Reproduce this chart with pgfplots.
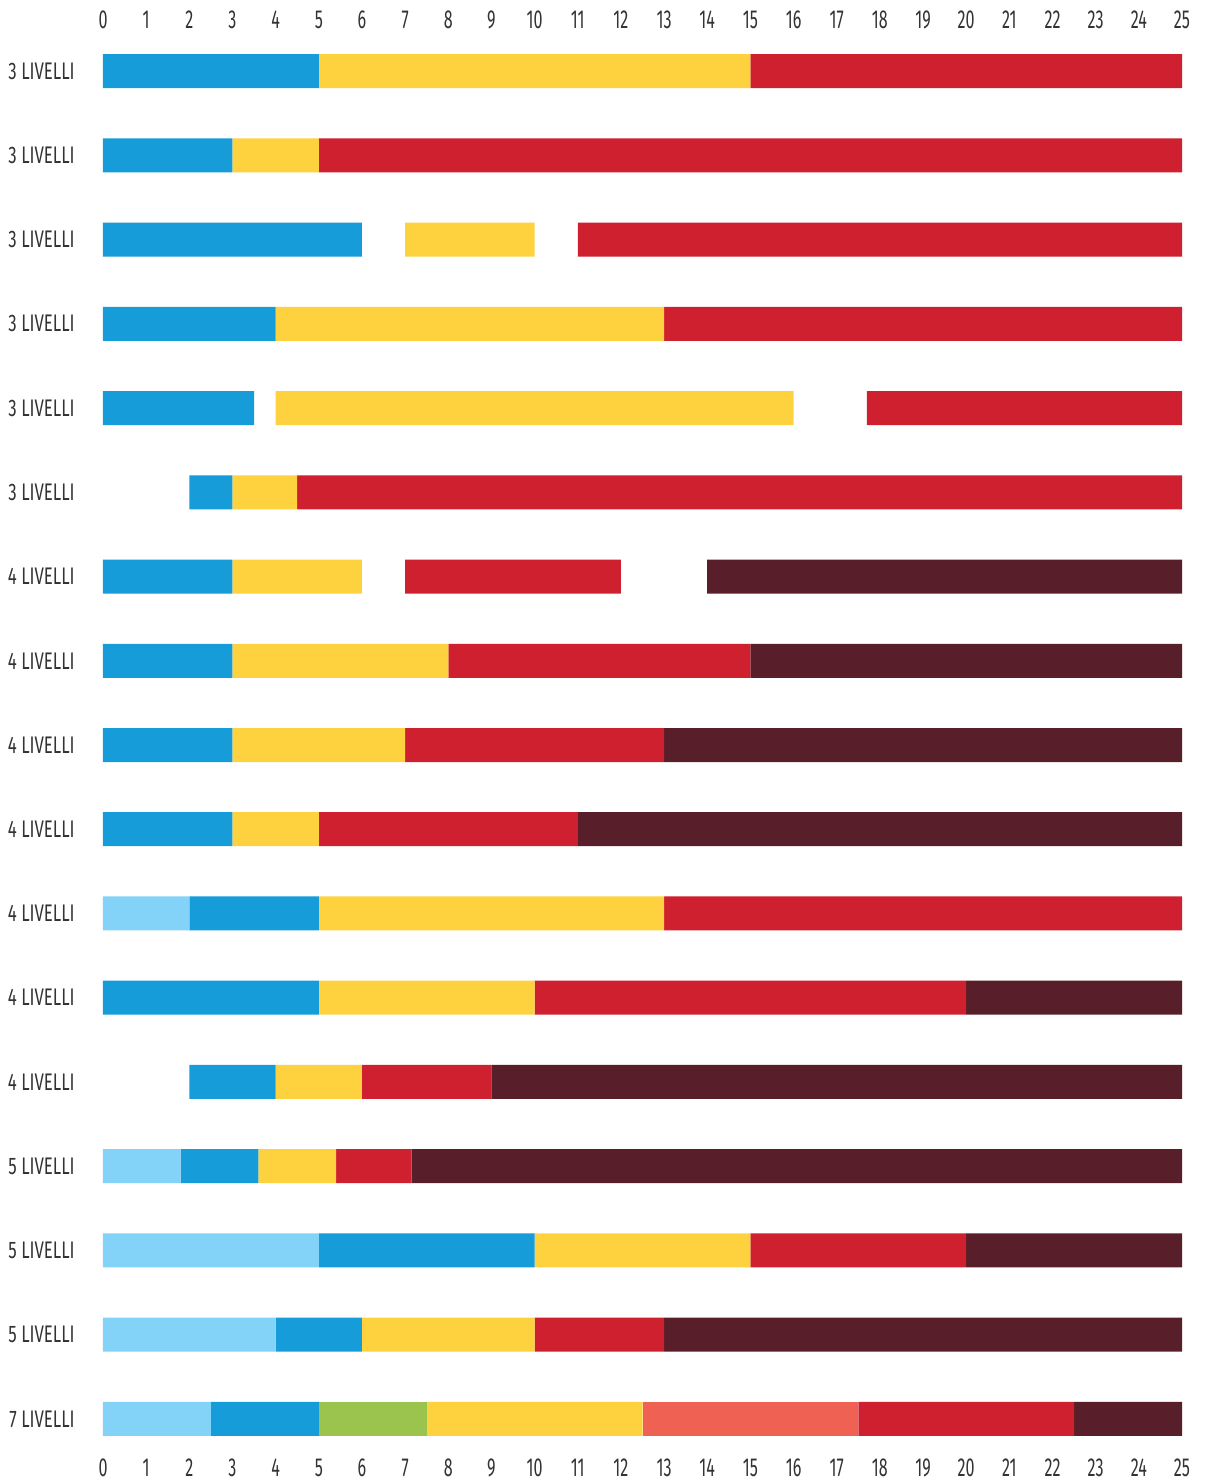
\documentclass[border=0pt]{standalone}
\usepackage{pgfplots}
\pgfplotsset{compat=1.18}
\usepackage{pgfplotstable}
\usepackage{fontspec}
\setmainfont{Fira Sans}[FakeStretch=0.7]
\newfontfamily\tickfont{Fira Sans}[FakeStretch=0.62]
\definecolor{cLB}{HTML}{82D3F7}
\definecolor{cBL}{HTML}{169DD9}
\definecolor{cGR}{HTML}{9BC44F}
\definecolor{cYE}{HTML}{FDD23E}
\definecolor{cSA}{HTML}{EF6152}
\definecolor{cRE}{HTML}{CF202F}
\definecolor{cDK}{HTML}{581E29}
\definecolor{txt}{HTML}{333333}
\pgfplotstableread{
row g0 lb bl g1 gr ye g2 sa re g3 dk
1  0 0   5   0   0   10  0   0 10   0 0
2  0 0   3   0   0   2   0   0 20   0 0
3  0 0   6   1   0   3   1   0 14   0 0
4  0 0   4   0   0   9   0   0 12   0 0
5  0 0   3.5 0.5 0   12  1.7 0 7.3  0 0
6  2 0   1   0   0   1.5 0   0 20.5 0 0
7  0 0   3   0   0   3   1   0 5    2 11
8  0 0   3   0   0   5   0   0 7    0 10
9  0 0   3   0   0   4   0   0 6    0 12
10 0 0   3   0   0   2   0   0 6    0 14
11 0 2   3   0   0   8   0   0 12   0 0
12 0 0   5   0   0   5   0   0 10   0 5
13 2 0   2   0   0   2   0   0 3    0 16
14 0 1.8 1.8 0   0   1.8 0   0 1.75 0 17.85
15 0 5   5   0   0   5   0   0 5    0 5
16 0 4   2   0   0   4   0   0 3    0 12
17 0 2.5 2.5 0   2.5 5   0   5 5    0 2.5
}\data
\begin{document}
\begin{tikzpicture}
\begin{axis}[name=main, scale only axis, width=539.5pt, height=716pt,
  xmin=0, xmax=25, ymin=0.5, ymax=17.5, y dir=reverse, enlargelimits=false,
  xbar stacked, bar width=17pt, axis line style={draw=none}, major tick length=0pt,
  xtick={0,...,25}, ytick={1,...,17},
  yticklabels={3 LIVELLI,3 LIVELLI,3 LIVELLI,3 LIVELLI,3 LIVELLI,3 LIVELLI,4 LIVELLI,4 LIVELLI,4 LIVELLI,4 LIVELLI,4 LIVELLI,4 LIVELLI,4 LIVELLI,5 LIVELLI,5 LIVELLI,5 LIVELLI,7 LIVELLI},
  xticklabel pos=lower,
  /pgf/number format/assume math mode=true,
  xticklabel style={anchor=center, inner sep=0pt, yshift=-3.5pt, font=\tickfont\fontsize{13}{15}\selectfont, text=txt},
  yticklabel style={anchor=east, inner sep=0pt, xshift=-14pt, font=\fontsize{12}{14}\selectfont, text=txt},
  clip=false]
\addplot[draw=none, fill=none] table[x=g0, y=row] {\data};
\addplot[draw=none, fill=cLB] table[x=lb, y=row] {\data};
\addplot[draw=none, fill=cBL] table[x=bl, y=row] {\data};
\addplot[draw=none, fill=none] table[x=g1, y=row] {\data};
\addplot[draw=none, fill=cGR] table[x=gr, y=row] {\data};
\addplot[draw=none, fill=cYE] table[x=ye, y=row] {\data};
\addplot[draw=none, fill=none] table[x=g2, y=row] {\data};
\addplot[draw=none, fill=cSA] table[x=sa, y=row] {\data};
\addplot[draw=none, fill=cRE] table[x=re, y=row] {\data};
\addplot[draw=none, fill=none] table[x=g3, y=row] {\data};
\addplot[draw=none, fill=cDK] table[x=dk, y=row] {\data};
\end{axis}
\begin{axis}[at={(main.south west)}, anchor=south west, scale only axis, width=539.5pt, height=716pt,
  xmin=0, xmax=25, ymin=0.5, ymax=17.5, y dir=reverse, enlargelimits=false,
  axis line style={draw=none}, major tick length=0pt, ytick=\empty,
  xtick={0,...,25}, xticklabel pos=upper,
  /pgf/number format/assume math mode=true,
  xticklabel style={anchor=center, inner sep=0pt, yshift=4.5pt, font=\tickfont\fontsize{13}{15}\selectfont, text=txt}]
\addplot[draw=none] coordinates {(0,1)};
\end{axis}
\path ([xshift=-51.5pt,yshift=-10pt]main.south west) rectangle ([xshift=11pt,yshift=14.5pt]main.north east);
\end{tikzpicture}
\end{document}
